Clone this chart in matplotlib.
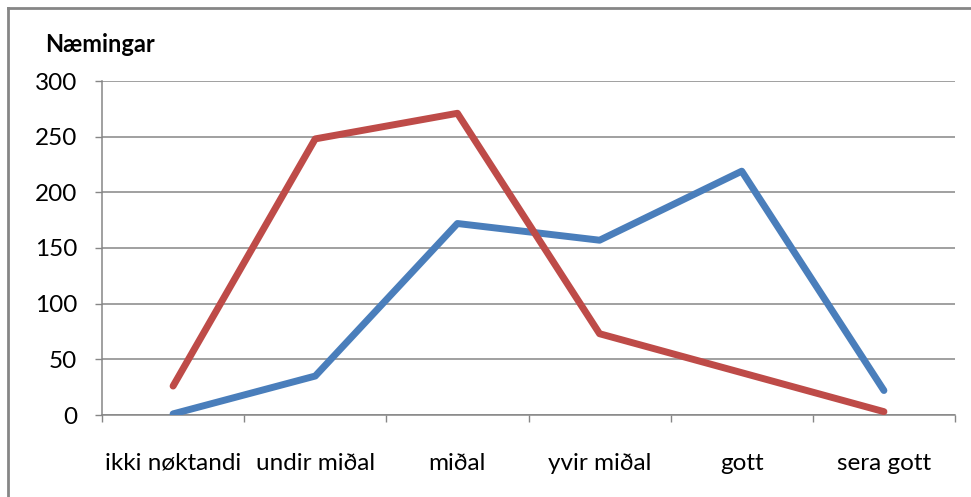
import matplotlib
matplotlib.use("Agg")
import matplotlib.pyplot as plt
from matplotlib.lines import Line2D
import numpy as np

categories = ["ikki nøktandi", "undir miðal", "miðal", "yvir miðal", "gott", "sera gott"]
blue_values = [1, 35, 172, 157, 219, 22]
red_values = [26, 248, 271, 73, 38, 3]
y_ticks = [0, 50, 100, 150, 200, 250, 300]

plt.rcParams['font.family'] = ['Lato', 'DejaVu Sans']

W, H = 971, 497
fig = plt.figure(figsize=(W / 100, H / 100), dpi=100)
ax = fig.add_axes([102 / W, (H - 415) / H, 853 / W, (415 - 81) / H])

grey = "#868686"
x = np.arange(len(categories))
ax.plot(x, blue_values, color="#4A7EBB", lw=5, solid_capstyle="round", solid_joinstyle="round", zorder=3)
ax.plot(x, red_values, color="#BE4B48", lw=5, solid_capstyle="round", solid_joinstyle="round", zorder=3)

ax.set_xlim(-0.5, len(categories) - 0.5)
ax.set_ylim(0, 300)
ax.set_yticks(y_ticks)
ax.set_yticklabels([str(v) for v in y_ticks], fontsize=17.5)
ax.set_xticks(x)
ax.set_xticklabels(categories, fontsize=17.5)
ax.set_xticks(np.arange(-0.5, len(categories), 1.0), minor=True)
ax.tick_params(axis="x", which="major", length=0, pad=27)
ax.tick_params(axis="x", which="minor", length=5, color=grey, width=1)
ax.tick_params(axis="y", length=5, color=grey, width=1, pad=13)
ax.grid(axis="y", color=grey, lw=1.1)
ax.set_axisbelow(True)
for s in ["top", "right"]:
    ax.spines[s].set_visible(False)
for s in ["left", "bottom"]:
    ax.spines[s].set_color(grey)
    ax.spines[s].set_linewidth(1.1)

fig.text(100 / W, 1 - 45 / H, "Næmingar", fontsize=17, fontweight="bold", ha="center", va="center")

# chart border (top and left visible)
fig.add_artist(Line2D([8 / W, 1], [1 - 8 / H, 1 - 8 / H], color=grey, lw=2, transform=fig.transFigure))
fig.add_artist(Line2D([8 / W, 8 / W], [0, 1 - 8 / H], color=grey, lw=2, transform=fig.transFigure))

fig.savefig("out.png", dpi=100)
